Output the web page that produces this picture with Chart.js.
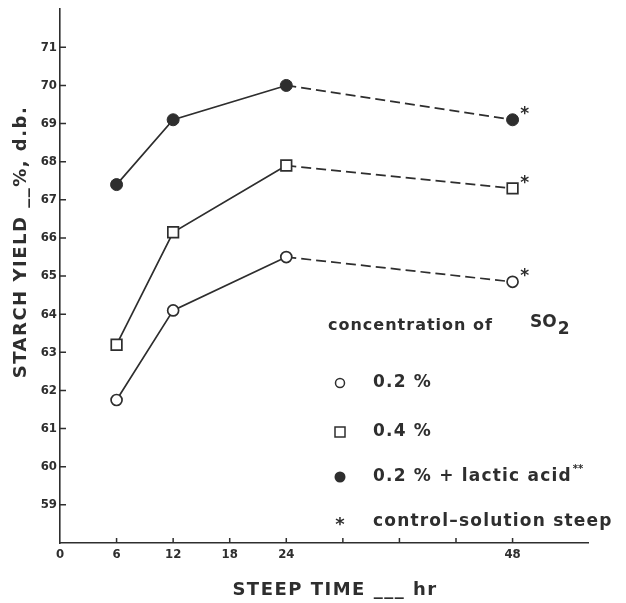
<!DOCTYPE html>
<html>
<head>
<meta charset="utf-8">
<script src="https://cdn.jsdelivr.net/npm/chart.js@4"></script>
<style>
  body { margin: 0; background: #fff; }
</style>
</head>
<body>
<canvas id="chart" width="626" height="603"></canvas>
<script>
// data
const steepHours = [6, 12, 24, 48];
const yieldSO2Low = [61.75, 64.1, 65.5, 64.85];     // 0.2 %
const yieldSO2High = [63.2, 66.15, 67.9, 67.3];     // 0.4 %
const yieldLactic = [67.4, 69.1, 70.0, 69.1];       // 0.2 % + lactic acid
const xTickLabels = [0, 6, 12, 18, 24, 48];
const xTickMarks = [6, 12, 18, 24, 30, 36, 42, 48];
const yTickLabels = [59, 60, 61, 62, 63, 64, 65, 66, 67, 68, 69, 70, 71];
const legendLabels = ['0.2 %', '0.4 %', '0.2 % + lactic acid', 'control\u2013solution steep'];

const INK = '#2e2e2e';
const TICK_FONT = {
    family: '"Liberation Sans Narrow", "DejaVu Sans Condensed", "Liberation Sans", sans-serif',
    size: 13,
    weight: 'bold'
};

let canvas = document.querySelector('#chart');

function toPoints(values) {
    return steepHours.map((h, i) => ({ x: h, y: values[i] }));
}

// last segment (24 -> 48 h) is dashed
let dashLast = { borderDash: ctx => ctx.p0DataIndex === 2 ? [10, 5] : undefined };

let decorations = {
    id: 'decorations',
    afterDraw(chart) {
        const { ctx, chartArea } = chart;
        const x = chart.scales.x;
        const y = chart.scales.y;
        ctx.save();
        ctx.strokeStyle = INK;
        ctx.fillStyle = INK;
        ctx.lineWidth = 1.5;

        // tick marks point into the plot
        ctx.beginPath();
        xTickMarks.forEach(v => {
            let px = x.getPixelForValue(v);
            ctx.moveTo(px, chartArea.bottom);
            ctx.lineTo(px, chartArea.bottom - 5);
        });
        yTickLabels.forEach(v => {
            let py = y.getPixelForValue(v);
            ctx.moveTo(chartArea.left, py);
            ctx.lineTo(chartArea.left + 6, py);
        });
        ctx.stroke();

        // asterisk next to every 48 h point (control-solution steep)
        ctx.font = 'bold 17px "DejaVu Sans"';
        ctx.textAlign = 'center';
        ctx.textBaseline = 'middle';
        chart.data.datasets.forEach((ds, i) => {
            let pts = chart.getDatasetMeta(i).data;
            let last = pts[pts.length - 1];
            ctx.fillText('*', last.x + 12, last.y - 5);
        });

        // axis titles
        ctx.font = 'bold 18px "DejaVu Sans"';
        ctx.letterSpacing = '1.5px';
        ctx.fillText('STEEP TIME ___ hr', 335, 590);
        ctx.save();
        ctx.translate(21, 242);
        ctx.rotate(-Math.PI / 2);
        ctx.fillText('STARCH YIELD __%, d.b.', 0, 0);
        ctx.restore();

        // legend
        ctx.textAlign = 'left';
        ctx.font = 'bold 16px "DejaVu Sans"';
        ctx.letterSpacing = '1px';
        ctx.fillText('concentration of', 328, 326);
        ctx.font = 'bold 17px "DejaVu Sans"';
        ctx.letterSpacing = '0px';
        ctx.fillText('SO', 530, 323);
        let soWidth = ctx.measureText('SO').width;
        ctx.fillText('2', 530 + soWidth + 1, 330);

        let rows = [383, 432, 477, 522];
        let mx = 340;
        ctx.lineWidth = 1.5;
        // open circle
        ctx.beginPath();
        ctx.arc(mx, rows[0], 4.5, 0, Math.PI * 2);
        ctx.stroke();
        // open square
        ctx.strokeRect(mx - 5, rows[1] - 5, 10, 10);
        // filled circle
        ctx.beginPath();
        ctx.arc(mx, rows[2], 5.5, 0, Math.PI * 2);
        ctx.fill();
        // asterisk
        ctx.font = 'bold 18px "DejaVu Sans"';
        ctx.textAlign = 'center';
        ctx.fillText('*', mx, rows[3] + 3);

        ctx.textAlign = 'left';
        ctx.font = 'bold 17px "DejaVu Sans"';
        ctx.letterSpacing = '1.2px';
        legendLabels.forEach((txt, i) => {
            ctx.fillText(txt, 373, rows[i]);
        });
        // the ** footnote mark after "lactic acid"
        let w = ctx.measureText(legendLabels[2]).width;
        ctx.font = 'bold 10px "DejaVu Sans"';
        ctx.letterSpacing = '0px';
        ctx.fillText('**', 373 + w + 1, rows[2] - 8);

        ctx.restore();
    }
};

let graph = new Chart(canvas, {
    type: 'scatter',
    data: {
        datasets: [
            {
                label: legendLabels[0],
                data: toPoints(yieldSO2Low),
                showLine: true,
                borderColor: INK,
                borderWidth: 1.7,
                segment: dashLast,
                pointStyle: 'circle',
                pointRadius: 5.5,
                pointBorderWidth: 1.7,
                pointBackgroundColor: '#fff',
                pointBorderColor: INK
            },
            {
                label: legendLabels[1],
                data: toPoints(yieldSO2High),
                showLine: true,
                borderColor: INK,
                borderWidth: 1.7,
                segment: dashLast,
                pointStyle: 'rect',
                pointRadius: 7.5,
                pointBorderWidth: 1.7,
                pointBackgroundColor: '#fff',
                pointBorderColor: INK
            },
            {
                label: legendLabels[2],
                data: toPoints(yieldLactic),
                showLine: true,
                borderColor: INK,
                borderWidth: 1.7,
                segment: dashLast,
                pointStyle: 'circle',
                pointRadius: 6,
                pointBorderWidth: 1,
                pointBackgroundColor: INK,
                pointBorderColor: INK
            }
        ]
    },
    options: {
        responsive: false,
        animation: false,
        layout: { padding: { top: 6, right: 38, left: 0, bottom: 0 } },
        plugins: {
            legend: { display: false },
            tooltip: { enabled: false }
        },
        scales: {
            x: {
                type: 'linear',
                min: 0,
                max: 56,
                afterFit: s => { s.height = 60; },
                grid: { drawOnChartArea: false, drawTicks: false },
                border: { color: INK, width: 1.6 },
                ticks: {
                    stepSize: 6,
                    padding: 4,
                    color: INK,
                    font: TICK_FONT,
                    callback: v => xTickLabels.includes(v) ? String(v) : ''
                }
            },
            y: {
                type: 'linear',
                min: 58,
                max: 72,
                afterFit: s => { s.width = 60; s.paddingTop = 0; s.paddingBottom = 0; },
                grid: { drawOnChartArea: false, drawTicks: false },
                border: { color: INK, width: 1.6 },
                ticks: {
                    stepSize: 1,
                    padding: 3,
                    color: INK,
                    font: TICK_FONT,
                    callback: v => yTickLabels.includes(v) ? String(v) : ''
                }
            }
        }
    },
    plugins: [decorations]
});
</script>
</body>
</html>
